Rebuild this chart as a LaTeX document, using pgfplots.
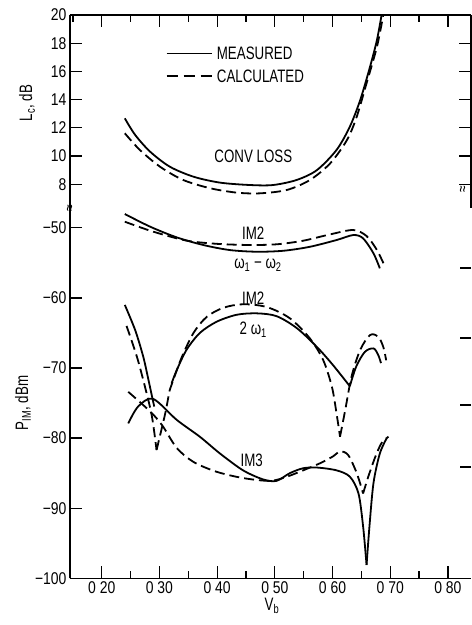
\documentclass[border=0pt]{standalone}
\usepackage{fontspec}
\setmainfont{Liberation Sans}[FakeStretch=0.74]
\newfontfamily\tickfont{Liberation Sans}[FakeStretch=0.82]
\usepackage{pgfplots}
\pgfplotsset{compat=1.18}
\tikzset{tk/.style={black, line width=1.2pt}}
\pgfplotsset{
  base/.style={scale only axis, width=401pt, xmin=0.145, xmax=0.84,
    axis line style={black, line width=1.4pt},
    major tick length=12pt, minor tick length=7pt,
    every tick/.append style={black, line width=1.2pt},
    tick label style={font=\tickfont\fontsize{17}{20}\selectfont},
    /pgf/number format/assume math mode=true,
    clip=false,
    xtick={0.2,0.3,0.4,0.5,0.6,0.7,0.8},
    minor xtick={0.25,0.35,0.45,0.55,0.65,0.75}},
  meas/.style={black, line width=1.8pt, smooth, line join=round, no marks},
  calc/.style={black, line width=1.8pt, smooth, line join=round, no marks, dash pattern=on 10pt off 5pt},
}
\newcommand\lbl{\fontsize{18}{21}\selectfont}
\begin{document}
\begin{tikzpicture}
\useasboundingbox (0pt,0pt) rectangle (472pt,625pt);

% ---------- lower axis: P_IM ----------
\begin{axis}[base, at={(70pt,46.7pt)}, anchor=south west, height=370.3pt,
  axis x line*=bottom, axis y line*=left, tick align=inside,
  ymin=-100, ymax=-47.17,
  xticklabels={0 20,0 30,0 40,0 50,0 60,0 70,0 80},
  ytick={-100,-90,-80,-70,-60,-50},
  yticklabels={−100,−90,−80,−70,−60,−50}]
% IM2 w1-w2
\addplot[meas] coordinates {(0.240,-48.03) (0.284,-49.84) (0.330,-51.36) (0.376,-52.45) (0.422,-53.17) (0.469,-53.41) (0.515,-53.27) (0.561,-52.70) (0.607,-51.74) (0.636,-51.03) (0.653,-51.50) (0.671,-53.64) (0.682,-55.78)};
\addplot[calc] coordinates {(0.240,-49.13) (0.284,-50.41) (0.330,-51.50) (0.359,-51.98) (0.405,-52.31) (0.457,-52.45) (0.503,-52.35) (0.549,-51.84) (0.596,-50.93) (0.636,-50.31) (0.659,-51.17) (0.677,-53.17) (0.691,-55.55)};
% IM2 2w1 measured
\addplot[meas] coordinates {(0.240,-61.0) (0.258,-64.6) (0.272,-68.4) (0.281,-71.7) (0.287,-74.0) (0.291,-75.5)};
\addplot[meas] coordinates {(0.321,-72.2) (0.330,-70.3) (0.347,-67.4) (0.370,-65.0) (0.399,-63.4) (0.434,-62.4) (0.469,-62.2) (0.503,-62.6) (0.538,-64.3) (0.573,-67.0) (0.601,-69.6) (0.630,-72.6)};
\addplot[meas] coordinates {(0.630,-72.6) (0.641,-69.8) (0.656,-67.7) (0.671,-67.2) (0.679,-68.1) (0.684,-69.3)};
% IM2 2w1 calculated
\addplot[calc] coordinates {(0.243,-64.0) (0.261,-68.4) (0.275,-72.7) (0.287,-76.9) (0.295,-81.7)};
\addplot[calc] coordinates {(0.295,-81.7) (0.310,-76.5) (0.318,-73.1) (0.324,-71.7) (0.339,-68.4) (0.359,-65.0) (0.382,-62.7) (0.411,-61.4) (0.445,-60.9) (0.486,-61.3) (0.526,-62.9) (0.561,-65.8) (0.584,-68.9) (0.599,-72.7) (0.607,-76.5) (0.613,-79.8)};
\addplot[calc] coordinates {(0.613,-79.8) (0.622,-76.0) (0.633,-71.2) (0.648,-67.4) (0.665,-65.3) (0.679,-65.5) (0.688,-67.0) (0.693,-68.9)};
% IM3 measured
\addplot[meas] coordinates {(0.246,-77.9) (0.263,-75.5) (0.289,-74.4) (0.330,-77.4) (0.370,-79.8) (0.405,-82.2) (0.445,-84.6) (0.480,-85.9) (0.503,-86.1) (0.526,-85.0) (0.549,-84.3) (0.573,-84.2) (0.607,-84.6) (0.630,-85.5) (0.645,-87.9) (0.653,-92.6) (0.659,-98.1)};
\addplot[meas] coordinates {(0.659,-98.1) (0.664,-92.6) (0.671,-86.4) (0.682,-82.2) (0.694,-80.0)};
% IM3 calculated
\addplot[calc] coordinates {(0.246,-73.4) (0.284,-76.2) (0.305,-78.2) (0.330,-81.4) (0.359,-83.4) (0.399,-84.8) (0.445,-85.7) (0.492,-86.1) (0.521,-85.5) (0.549,-84.6) (0.578,-83.6) (0.601,-82.6) (0.613,-81.9) (0.627,-82.4) (0.642,-85.0) (0.653,-87.9)};
\addplot[calc] coordinates {(0.653,-87.9) (0.662,-85.5) (0.674,-82.7) (0.685,-80.7) (0.697,-79.8)};
\end{axis}

% ---------- upper axis: L_c ----------
\begin{axis}[base, at={(70pt,417pt)}, anchor=south west, height=193pt,
  axis x line*=top, axis y line*=box, tick align=inside,
  ymin=6.31, ymax=20, xticklabel=\empty,
  ytick={8,10,12,14,16,18,20}]
\addplot[meas] coordinates {(0.240,12.67) (0.258,11.49) (0.284,10.30) (0.318,9.24) (0.359,8.53) (0.405,8.11) (0.457,7.94) (0.497,7.94) (0.538,8.30) (0.573,9.00) (0.607,10.43) (0.630,12.08) (0.648,13.97) (0.665,16.33) (0.677,18.23) (0.685,20.00)};
\addplot[calc] coordinates {(0.240,11.61) (0.266,10.43) (0.301,9.24) (0.341,8.30) (0.388,7.71) (0.434,7.40) (0.474,7.35) (0.521,7.59) (0.561,8.30) (0.596,9.48) (0.625,11.13) (0.642,12.79) (0.659,15.16) (0.677,17.75) (0.688,20.00)};
\end{axis}

\begin{scope}[x=1pt,y=1pt]
% tick marks (decoration, in picture coordinates)
\foreach \yy in {581.8,553.6,525.4,497.2,469.0,440.8} {
  \draw[tk] (70,\yy) -- (82,\yy);
  \draw[tk] (471,\yy) -- (459,\yy);}
\foreach \yy in {116.8,186.9,257.0,327.1,397.2} \draw[tk] (70,\yy) -- (82,\yy);
\foreach \xx in {101.7,159.4,217.1,274.8,332.5,390.2,447.9} {
  \draw[tk] (\xx,46.7) -- (\xx,58.7);
  \draw[tk] (\xx,610) -- (\xx,598);}
\foreach \xx in {130.6,188.3,246.0,303.7,361.4,419.1} {
  \draw[tk] (\xx,46.7) -- (\xx,53.7);
  \draw[tk] (\xx,610) -- (\xx,603);}
\draw[tk] (72.9,610) -- (72.9,603);
% short ticks on the right edge of the lower part
\foreach \yy in {357,287,220,158} \draw[tk] (471,\yy) -- (460,\yy);

% break marks
\node[rotate=90, inner sep=0, font=\fontsize{16}{16}\selectfont] at (71,417) {≈};
\node[rotate=90, inner sep=0, font=\fontsize{16}{16}\selectfont] at (464,436) {≈};

% axis titles
\node[rotate=90, font=\lbl] at (27,522) {L\textsubscript{c}, dB};
\node[rotate=90, font=\lbl] at (23,222) {P\textsubscript{IM}, dBm};
\node[font=\lbl] at (272,19) {V\textsubscript{b}};

% legend
\draw[line width=1.4pt] (166.7,571.7) -- (211.7,571.7);
\node[anchor=west, font=\lbl, inner sep=0] at (216.7,571.7) {MEASURED};
\draw[line width=1.6pt, dash pattern=on 11pt off 6pt] (166.7,549) -- (211.7,549);
\node[anchor=west, font=\lbl, inner sep=0] at (216.7,549) {CALCULATED};

% curve labels
\node[font=\lbl] at (253.3,468.3) {CONV LOSS};
\node[font=\lbl] at (253.3,391.7) {IM2};
\node[font=\lbl] at (258,360) {ω\textsubscript{1} − ω\textsubscript{2}};
\node[font=\lbl] at (253.3,326.7) {IM2};
\node[font=\lbl] at (253.3,295) {2 ω\textsubscript{1}};
\node[font=\lbl] at (251.7,165) {IM3};
\end{scope}
\end{tikzpicture}
\end{document}
